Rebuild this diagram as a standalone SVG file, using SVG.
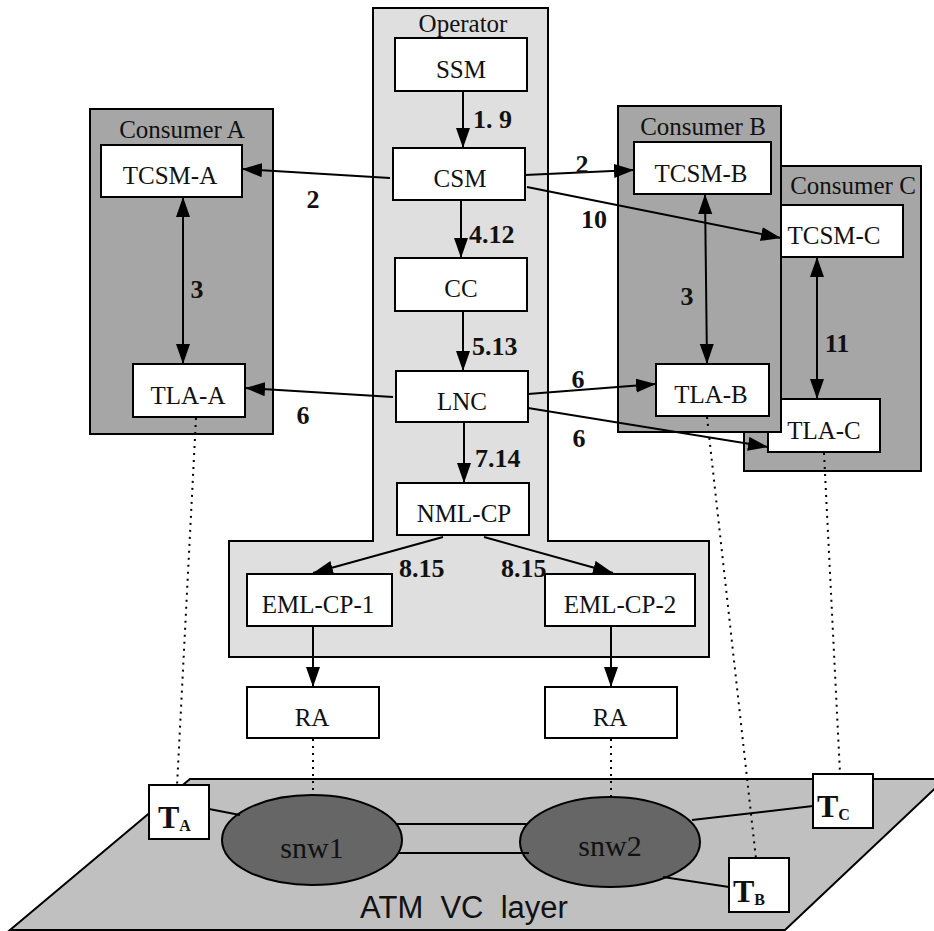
<svg xmlns="http://www.w3.org/2000/svg" width="934" height="931" viewBox="0 0 934 931">
<style>
.box{fill:#ffffff;stroke:#000;stroke-width:2}
.lbl{font-family:"Liberation Serif","Times New Roman",serif;font-size:25px;fill:#111;text-anchor:middle}
.num{font-family:"Liberation Serif","Times New Roman",serif;font-size:26px;font-weight:bold;fill:#111}
.c{text-anchor:middle}
.arr{stroke:#000;stroke-width:2;fill:none;marker-end:url(#ah)}
.bi{stroke:#000;stroke-width:2;fill:none;marker-end:url(#ah);marker-start:url(#ah)}
.dot{stroke:#000;stroke-width:2;fill:none;stroke-dasharray:2,5}
.ln{stroke:#000;stroke-width:2;fill:none}
.tb{font-family:"Liberation Serif","Times New Roman",serif;font-weight:bold;fill:#111}
</style>
<defs>
<marker id="ah" markerUnits="userSpaceOnUse" markerWidth="22" markerHeight="16" refX="20" refY="7" orient="auto-start-reverse">
<path d="M0,0 L20,7 L0,14 z" fill="#000"/>
</marker>
</defs>
<rect width="934" height="931" fill="#fff"/>

<g id="atm-plane">
<polygon points="190,779 945,779 785,930 10,930" fill="#c0c0c0" stroke="#000" stroke-width="2"/>
<text x="464" y="918" font-family="'Liberation Sans',Arial,sans-serif" font-size="31" fill="#111" text-anchor="middle" xml:space="preserve">ATM  VC  layer</text>
</g>

<g id="operator">
<polygon points="373,8 548,8 548,541 709,541 709,657 229,657 229,541 373,541" fill="#dfdfdf" stroke="#000" stroke-width="2"/>
<text class="lbl" x="463" y="32">Operator</text>
</g>

<g id="consumerA">
<rect x="90" y="109" width="183" height="325" fill="#a6a6a6" stroke="#000" stroke-width="2"/>
<text class="lbl" x="182" y="138">Consumer A</text>
</g>

<g id="consumerC">
<rect x="744" y="166" width="177" height="305" fill="#a6a6a6" stroke="#000" stroke-width="2"/>
<text class="lbl" x="853" y="194">Consumer C</text>
</g>
<g id="TCSM-C">
<rect class="box" x="781" y="205" width="122" height="52"/>
<text class="lbl" x="834" y="244">TCSM-C</text>
</g>
<g id="TLA-C">
<rect class="box" x="768" y="399" width="112" height="53"/>
<text class="lbl" x="824" y="439">TLA-C</text>
</g>

<g id="consumerB">
<rect x="618" y="106" width="163" height="326" fill="#a6a6a6" stroke="#000" stroke-width="2"/>
<text class="lbl" x="703" y="135">Consumer B</text>
</g>
<g id="TCSM-B">
<rect class="box" x="634" y="142" width="137" height="52"/>
<text class="lbl" x="701" y="182">TCSM-B</text>
</g>
<g id="TLA-B">
<rect class="box" x="656" y="364" width="113" height="52"/>
<text class="lbl" x="711" y="403">TLA-B</text>
</g>

<g id="TCSM-A">
<rect class="box" x="101" y="145" width="141" height="52"/>
<text class="lbl" x="170" y="184">TCSM-A</text>
</g>
<g id="TLA-A">
<rect class="box" x="133" y="364" width="112" height="53"/>
<text class="lbl" x="188" y="404">TLA-A</text>
</g>

<g id="SSM">
<rect class="box" x="395" y="38" width="132" height="53"/>
<text class="lbl" x="461" y="78">SSM</text>
</g>
<g id="CSM">
<rect class="box" x="393" y="148" width="132" height="52"/>
<text class="lbl" x="460" y="187">CSM</text>
</g>
<g id="CC">
<rect class="box" x="395" y="258" width="132" height="53"/>
<text class="lbl" x="461" y="297">CC</text>
</g>
<g id="LNC">
<rect class="box" x="396" y="371" width="132" height="51"/>
<text class="lbl" x="462" y="410">LNC</text>
</g>
<g id="NML-CP">
<rect class="box" x="397" y="483" width="132" height="52"/>
<text class="lbl" x="464" y="522">NML-CP</text>
</g>
<g id="EML-CP-1">
<rect class="box" x="247" y="574" width="145" height="52"/>
<text class="lbl" x="318" y="613">EML-CP-1</text>
</g>
<g id="EML-CP-2">
<rect class="box" x="545" y="574" width="150" height="52"/>
<text class="lbl" x="620" y="613">EML-CP-2</text>
</g>
<g id="RA-1">
<rect class="box" x="247" y="687" width="132" height="51"/>
<text class="lbl" x="312" y="726">RA</text>
</g>
<g id="RA-2">
<rect class="box" x="545" y="687" width="132" height="51"/>
<text class="lbl" x="610" y="726">RA</text>
</g>

<g id="snw1">
<ellipse cx="312" cy="840" rx="90" ry="45" fill="#666" stroke="#000" stroke-width="2"/>
<text x="312" y="858" font-family="'Liberation Serif','Times New Roman',serif" font-size="30" fill="#111" text-anchor="middle">snw1</text>
</g>
<g id="snw2">
<ellipse cx="610" cy="842" rx="90" ry="45" fill="#666" stroke="#000" stroke-width="2"/>
<text x="610" y="856" font-family="'Liberation Serif','Times New Roman',serif" font-size="30" fill="#111" text-anchor="middle">snw2</text>
</g>

<g id="connectors">
<line class="arr" x1="463" y1="91" x2="463" y2="148"/>
<line class="arr" x1="461" y1="200" x2="461" y2="258"/>
<line class="arr" x1="463" y1="311" x2="463" y2="371"/>
<line class="arr" x1="464" y1="422" x2="464" y2="483"/>
<line class="arr" x1="390" y1="178" x2="242" y2="169"/>
<line class="bi" x1="183" y1="197" x2="183" y2="364"/>
<line class="arr" x1="393" y1="397" x2="245" y2="388"/>
<line class="arr" x1="525" y1="175" x2="634" y2="170"/>
<line class="arr" x1="527" y1="187" x2="781" y2="238"/>
<line class="bi" x1="705" y1="194" x2="707" y2="364"/>
<line class="bi" x1="817" y1="257" x2="817" y2="399"/>
<line class="arr" x1="528" y1="394" x2="656" y2="384"/>
<line class="arr" x1="528" y1="408" x2="768" y2="447"/>
<line class="arr" x1="443" y1="537" x2="313" y2="573"/>
<line class="arr" x1="484" y1="537" x2="613" y2="573"/>
<line class="arr" x1="313" y1="626" x2="313" y2="687"/>
<line class="arr" x1="611" y1="626" x2="611" y2="687"/>
<line class="dot" x1="313" y1="739" x2="313" y2="795"/>
<line class="dot" x1="611" y1="739" x2="611" y2="797"/>
<line class="dot" x1="196" y1="418" x2="177" y2="786"/>
<line class="dot" x1="707" y1="417" x2="756" y2="859"/>
<line class="dot" x1="824" y1="453" x2="840" y2="773"/>
<line class="ln" x1="209" y1="809" x2="240" y2="815"/>
<line class="ln" x1="397" y1="824" x2="528" y2="824"/>
<line class="ln" x1="398" y1="853" x2="529" y2="853"/>
<line class="ln" x1="692" y1="820" x2="813" y2="806"/>
<line class="ln" x1="663" y1="877" x2="729" y2="887"/>
</g>

<g id="edge-labels">
<text class="num" x="473" y="128">1. 9</text>
<text class="num" x="469" y="243">4.12</text>
<text class="num" x="472" y="355">5.13</text>
<text class="num" x="475" y="467">7.14</text>
<text class="num c" x="313" y="208">2</text>
<text class="num c" x="197" y="298">3</text>
<text class="num c" x="303" y="424">6</text>
<text class="num c" x="582" y="173">2</text>
<text class="num c" x="594" y="228">10</text>
<text class="num c" x="687" y="305">3</text>
<text class="num c" x="837" y="352">11</text>
<text class="num c" x="578" y="388">6</text>
<text class="num c" x="579" y="447">6</text>
<text class="num" x="399" y="577">8.15</text>
<text class="num" x="501" y="577">8.15</text>
</g>

<g id="TA">
<rect class="box" x="149" y="785" width="60" height="54"/>
<text class="tb" x="158" y="828" font-size="32">T<tspan font-size="16" dy="3">A</tspan></text>
</g>
<g id="TB">
<rect class="box" x="729" y="858" width="60" height="54"/>
<text class="tb" x="733" y="902" font-size="32">T<tspan font-size="16" dy="3">B</tspan></text>
</g>
<g id="TC">
<rect class="box" x="813" y="774" width="60" height="54"/>
<text class="tb" x="817" y="817" font-size="32">T<tspan font-size="16" dy="3">C</tspan></text>
</g>
</svg>
